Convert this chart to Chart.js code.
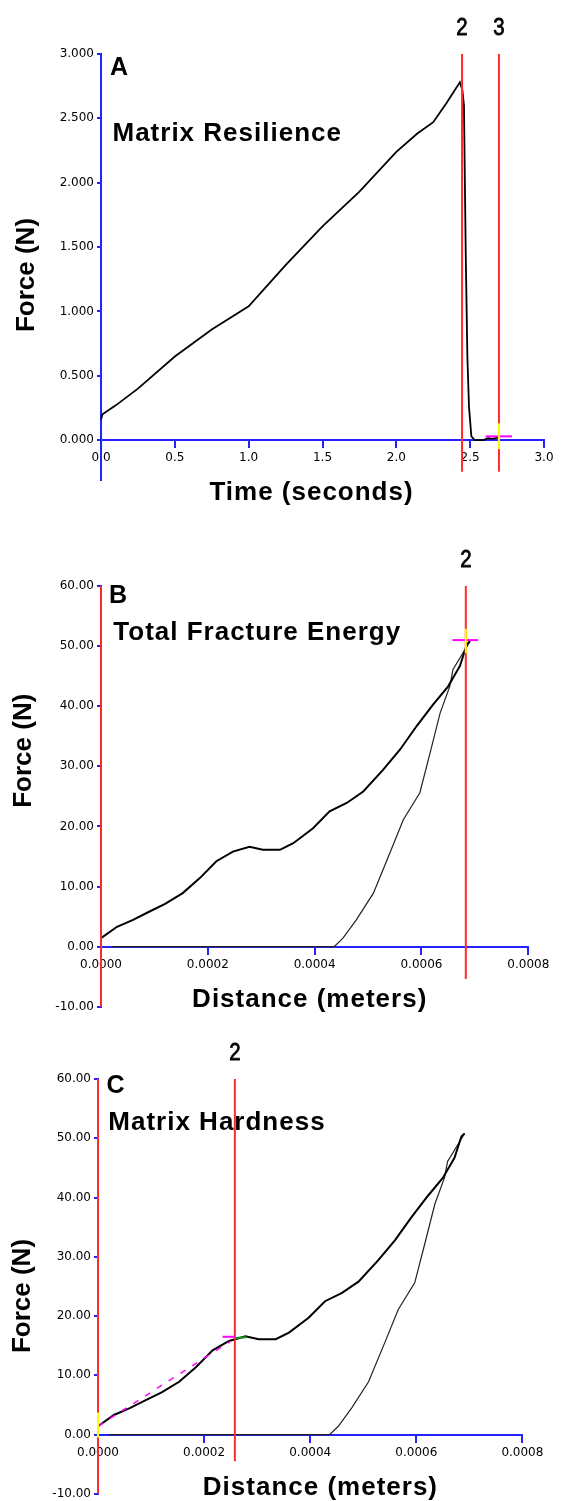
<!DOCTYPE html>
<html lang="en">
<head>
<meta charset="UTF-8">
<title>Matrix Resilience, Total Fracture Energy, Matrix Hardness</title>
<style>
  html, body { margin: 0; padding: 0; background: #fff; overflow: hidden; }
  .panel { position: absolute; left: 0; width: 566px; }
  canvas { display: block; }
</style>
<script src="https://cdn.jsdelivr.net/npm/chart.js@4"></script>
</head>
<body>
<div class="panel" style="top:0"><canvas id="chartA" width="566" height="510"></canvas></div>
<div class="panel" style="top:510px"><canvas id="chartB" width="566" height="510"></canvas></div>
<div class="panel" style="top:1020px"><canvas id="chartC" width="566" height="484"></canvas></div>

<script>
// ---- Panel A: force against time ----
const timeA  = [0, 0.01, 0.1, 0.25, 0.5, 0.75, 1.0, 1.25, 1.5, 1.75, 2.0, 2.14, 2.25, 2.34, 2.43,
                2.447, 2.458, 2.47, 2.481, 2.492, 2.508, 2.53, 2.59, 2.62, 2.65, 2.69];
const forceA = [0.16, 0.2, 0.27, 0.40, 0.65, 0.86, 1.04, 1.36, 1.66, 1.93, 2.24, 2.38, 2.47, 2.62, 2.78,
                2.72, 2.60, 1.45, 0.65, 0.26, 0.03, 0.0, 0.0, 0.015, 0.01, 0.02];
const xTicksA = [0, 0.5, 1.0, 1.5, 2.0, 2.5, 3.0];
const yTicksA = [0, 0.5, 1.0, 1.5, 2.0, 2.5, 3.0];
const cursorsA = [2.445, 2.695];
const cursorLowA = [-0.246, -0.246];
const cursorLabelsA = ['2', '3'];
const markHxA = [2.605, 2.783], markHyA = [0.029, 0.029];
const markVxA = [2.695, 2.695], markVyA = [-0.07, 0.13];

// ---- Panels B and C: force against distance (same test) ----
const distLoad  = [0, 0.00003, 0.00006, 0.00009, 0.00012, 0.000153, 0.000185, 0.000216, 0.000247,
                   0.000278, 0.000303, 0.000335, 0.00036, 0.000397, 0.000428, 0.00046, 0.000491,
                   0.000528, 0.00056, 0.000591, 0.000622, 0.00065, 0.000672, 0.000685, 0.000691];
const forceLoad = [1.4, 3.3, 4.45, 5.8, 7.1, 8.9, 11.4, 14.2, 15.8, 16.6, 16.1, 16.1, 17.2, 19.7, 22.5,
                   23.9, 25.8, 29.4, 32.8, 36.7, 40.3, 43.3, 46.7, 50.3, 50.8];
const distUnload  = [0.000691, 0.000659, 0.000653, 0.000635, 0.000616, 0.000597, 0.000566, 0.000541,
                     0.00051, 0.000478, 0.000453, 0.000438, 0.000435, 0.00002];
const forceUnload = [50.8, 46.1, 43.3, 38.9, 32.2, 25.6, 21.1, 15.6, 8.9, 4.45, 1.4, 0.1, 0, 0];
const xTicksD = [0, 0.0002, 0.0004, 0.0006, 0.0008];
const yTicksD = [-10, 0, 10, 20, 30, 40, 50, 60];

const cursorsB = [0, 0.000683];
const cursorLowB = [-10, -5.4];
const cursorLabelsB = ['', '2'];
const markHxB = [0.000658, 0.000706], markHyB = [51.0, 51.0];
const markVxB = [0.000683, 0.000683], markVyB = [48.8, 52.9];

const cursorsC = [0, 0.000258];
const cursorLowC = [-10, -4.5];
const cursorLabelsC = ['', '2'];
const markHxC = [0.000235, 0.000258], markHyC = [16.5, 16.5];
const markVxC = [0, 0], markVyC = [-0.5, 3.7];
const greenxC = [0.000258, 0.00028], greenyC = [16.3, 16.4];
const slopexC = [0, 0.000249], slopeyC = [1.4, 15.7];

const BLUE = '#2323ff';
const RED = '#ff2b2b';
const SANS = '"Liberation Sans", Arial, sans-serif';

function pts(xs, ys) {
  return xs.map((x, i) => ({x: x, y: ys[i]}));
}

function line(data, color, width, order, extra) {
  return Object.assign({
    data: data, borderColor: color, borderWidth: width, showLine: true,
    pointRadius: 0, fill: false, order: order, clip: false
  }, extra || {});
}

// text drawn on top of each panel: cursor numbers, panel letter, titles
const panelText = {
  id: 'panelText',
  afterDraw(chart, args, o) {
    const ctx = chart.ctx, area = chart.chartArea;
    const xs = chart.scales.x, ys = chart.scales.y;
    ctx.save();
    ctx.fillStyle = '#000';
    ctx.strokeStyle = '#000';
    ctx.textBaseline = 'alphabetic';

    // cursor numbers, in a narrow face
    ctx.font = '24px ' + SANS;
    ctx.textAlign = 'center';
    ctx.lineWidth = 0.8;
    o.cursors.forEach((v, i) => {
      if (!o.cursorLabels[i]) return;
      ctx.save();
      ctx.translate(xs.getPixelForValue(v), area.top - 19);
      ctx.scale(0.85, 1);
      ctx.fillText(o.cursorLabels[i], 0, 0);
      ctx.strokeText(o.cursorLabels[i], 0, 0);
      ctx.restore();
    });

    ctx.textAlign = 'left';
    ctx.font = 'bold 25px ' + SANS;
    ctx.fillText(o.letter, area.left + o.letter_dx, area.top + o.letter_dy);

    ctx.letterSpacing = '1px';
    ctx.font = 'bold 26px ' + SANS;
    ctx.fillText(o.title, area.left + o.title_dx, area.top + o.title_dy);

    ctx.textAlign = 'center';
    ctx.fillText(o.xTitle, o.xTitleX, ys.getPixelForValue(0) + 60);

    ctx.letterSpacing = '0px';
    ctx.translate(o.yTitleX, o.yTitleY);
    ctx.rotate(-Math.PI / 2);
    ctx.fillText('Force (N)', 0, 0);
    ctx.restore();
  }
};

function axis(min, max, tickVals, digits, isX, fitSize) {
  const s = {
    type: 'linear',
    min: min, max: max,
    afterBuildTicks: (sc) => { sc.ticks = tickVals.map(v => ({value: v})); },
    ticks: {
      callback: (v) => Number(v).toFixed(digits),
      font: {family: 'DejaVu Sans', size: 12},
      color: '#000',
      padding: isX ? 4 : 3,
      maxRotation: 0,
      autoSkip: false
    },
    grid: {drawOnChartArea: false, drawTicks: true, tickLength: isX ? 7 : 4, color: BLUE, lineWidth: 2},
    border: {color: BLUE, width: 2},
    afterFit: (sc) => { if (isX) sc.height = 0; else sc.width = fitSize; }
  };
  if (isX) s.position = {y: 0};
  else s.position = 'left';
  return s;
}

function makePanel(id, p) {
  const datasets = [];
  datasets.push(...p.extra);
  p.cursors.forEach((v, i) => {
    datasets.push(line(pts([v, v], [p.cursorLow[i], p.yMax]), RED, 2, 2));
  });
  p.curves.forEach(c => datasets.push(c));

  return new Chart(document.getElementById(id), {
    type: 'scatter',
    data: {datasets: datasets},
    options: {
      responsive: false,
      animation: false,
      layout: {padding: p.padding},
      plugins: {
        legend: {display: false},
        tooltip: {enabled: false},
        panelText: p.text
      },
      scales: {
        x: axis(p.xMin, p.xMax, p.xTicks, p.xDigits, true),
        y: axis(p.yMin, p.yMax, p.yTicks, p.yDigits, false, p.yWidth)
      }
    },
    plugins: [panelText]
  });
}

makePanel('chartA', {
  xMin: 0, xMax: 3.0, xTicks: xTicksA, xDigits: 1,
  yMin: -0.31, yMax: 3.0, yTicks: yTicksA, yDigits: 3,
  yWidth: 101, padding: {left: 0, top: 54, right: 22, bottom: 30},
  cursors: cursorsA, cursorLow: cursorLowA,
  curves: [line(pts(timeA, forceA), '#000', 1.8, 3)],
  extra: [
    line(pts(markVxA, markVyA), '#ffff00', 2, 0),
    line(pts(markHxA, markHyA), '#ff00ff', 2, 1)
  ],
  text: {
    cursors: cursorsA, cursorLabels: cursorLabelsA,
    letter: 'A', letter_dx: 9, letter_dy: 20.5,
    title: 'Matrix Resilience', title_dx: 11.5, title_dy: 87,
    xTitle: 'Time (seconds)', xTitleX: 311.5,
    yTitleX: 34, yTitleY: 275
  }
});

makePanel('chartB', {
  xMin: 0, xMax: 0.0008, xTicks: xTicksD, xDigits: 4,
  yMin: -10, yMax: 60, yTicks: yTicksD, yDigits: 2,
  yWidth: 101, padding: {left: 0, top: 76, right: 37.7, bottom: 13.3},
  cursors: cursorsB, cursorLow: cursorLowB,
  curves: [
    line(pts(distLoad, forceLoad), '#000', 2, 3),
    line(pts(distUnload, forceUnload), '#222', 1.2, 4)
  ],
  extra: [
    line(pts(markVxB, markVyB), '#ffff00', 2, 0),
    line(pts(markHxB, markHyB), '#ff00ff', 2, 1)
  ],
  text: {
    cursors: cursorsB, cursorLabels: cursorLabelsB,
    letter: 'B', letter_dx: 8, letter_dy: 17,
    title: 'Total Fracture Energy', title_dx: 12.3, title_dy: 54,
    xTitle: 'Distance (meters)', xTitleX: 309.7,
    yTitleX: 31, yTitleY: 240.7
  }
});

makePanel('chartC', {
  xMin: 0, xMax: 0.0008, xTicks: xTicksD, xDigits: 4,
  yMin: -10, yMax: 60, yTicks: yTicksD, yDigits: 2,
  yWidth: 98, padding: {left: 0, top: 59, right: 43.6, bottom: 8},
  cursors: cursorsC, cursorLow: cursorLowC,
  curves: [
    line(pts(distLoad, forceLoad), '#000', 2, 3),
    line(pts(distUnload, forceUnload), '#222', 1.2, 4)
  ],
  extra: [
    line(pts(markVxC, markVyC), '#ffff00', 2, 0),
    line(pts(markHxC, markHyC), '#ff00ff', 2, 1),
    line(pts(greenxC, greenyC), '#1a9a1a', 2, 1),
    line(pts(slopexC, slopeyC), '#ff00ff', 1.5, 1, {borderDash: [6, 8]})
  ],
  text: {
    cursors: cursorsC, cursorLabels: cursorLabelsC,
    letter: 'C', letter_dx: 8.5, letter_dy: 14,
    title: 'Matrix Hardness', title_dx: 10.3, title_dy: 50.5,
    xTitle: 'Distance (meters)', xTitleX: 320.4,
    yTitleX: 30, yTitleY: 276
  }
});
</script>
</body>
</html>
